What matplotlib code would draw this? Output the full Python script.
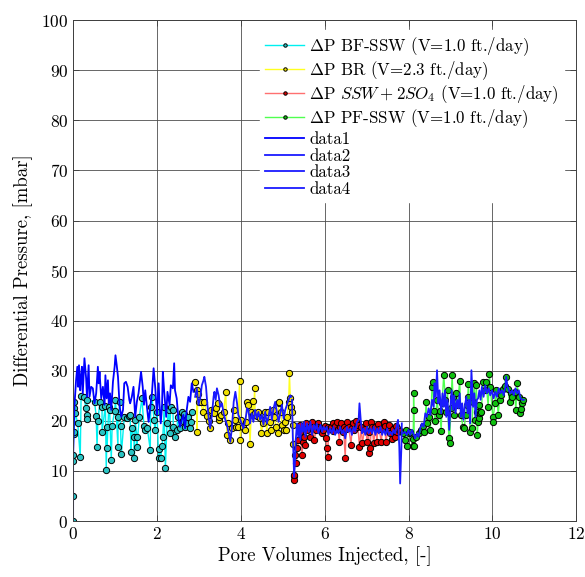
import matplotlib
matplotlib.use("Agg")
import matplotlib.pyplot as plt

plt.rcParams["font.family"] = "serif"
plt.rcParams["font.serif"] = ["cmr10", "DejaVu Serif"]
plt.rcParams["mathtext.fontset"] = "cm"
plt.rcParams["axes.formatter.use_mathtext"] = True
plt.rcParams["axes.unicode_minus"] = False

# ---- Marker series: differential pressure vs. pore volumes injected ----
bf_x = [0.00, 0.00, 0.00, 0.00, 0.01, 0.01, 0.02, 0.02, 0.05, 0.11, 0.17, 0.19, 0.25, 0.31, 0.32,
        0.33, 0.33, 0.51, 0.55, 0.57, 0.59, 0.64, 0.69, 0.69, 0.77, 0.79, 0.81, 0.81, 0.85, 0.87,
        0.91, 0.93, 0.99, 1.01, 1.07, 1.07, 1.12, 1.13, 1.15, 1.22, 1.28, 1.34, 1.36, 1.38, 1.40,
        1.45, 1.46, 1.48, 1.52, 1.52, 1.58, 1.64, 1.69, 1.72, 1.77, 1.84, 1.85, 1.88, 1.93, 1.95,
        2.00, 2.04, 2.06, 2.09, 2.12, 2.14, 2.17, 2.20, 2.24, 2.28, 2.30, 2.33, 2.38, 2.39, 2.43,
        2.47, 2.50, 2.54, 2.59, 2.62, 2.65, 2.67, 2.70, 2.73, 2.78, 2.81, 2.83]
bf_y = [0.0, 5.0, 12.0, 13.2, 17.4, 22.5, 23.8, 17.8, 21.6, 19.5, 12.8, 25.0, 24.8, 22.5, 21.1,
        20.4, 24.2, 23.8, 21.0, 14.8, 20.0, 23.8, 22.8, 17.8, 23.0, 10.2, 18.8, 14.6, 22.8, 22.2,
        12.2, 19.0, 22.0, 24.2, 14.8, 20.8, 23.7, 19.0, 13.3, 20.8, 20.5, 21.0, 21.2, 13.8, 18.6,
        16.8, 12.5, 20.2, 16.8, 14.8, 20.8, 24.5, 19.0, 18.2, 18.5, 14.2, 22.8, 24.8, 20.2, 18.2,
        21.8, 12.5, 14.3, 12.5, 15.0, 16.8, 22.8, 10.5, 19.5, 22.2, 17.5, 22.8, 22.2, 18.8, 16.7,
        18.2, 20.8, 18.5, 21.8, 20.0, 21.4, 18.8, 19.5, 20.8, 18.5, 19.8, 21.8]

br_x = [2.91, 2.95, 2.95, 2.98, 3.01, 3.05, 3.09, 3.13, 3.19, 3.23, 3.27, 3.29, 3.35, 3.37, 3.40,
        3.45, 3.47, 3.48, 3.53, 3.59, 3.64, 3.67, 3.69, 3.75, 3.79, 3.83, 3.85, 3.88, 3.93, 3.97,
        3.99, 4.01, 4.04, 4.09, 4.12, 4.14, 4.18, 4.22, 4.25, 4.28, 4.30, 4.33, 4.34, 4.38, 4.42,
        4.46, 4.49, 4.53, 4.58, 4.62, 4.66, 4.69, 4.72, 4.77, 4.80, 4.84, 4.88, 4.90, 4.92, 4.96,
        4.98, 5.02, 5.06, 5.08, 5.10, 5.14, 5.16, 5.18, 5.20, 5.22, 5.24, 5.24]
br_y = [27.8, 26.2, 17.8, 25.4, 23.8, 23.8, 21.8, 23.8, 21.0, 20.0, 18.5, 22.2, 22.2, 21.6, 22.5,
        23.5, 20.2, 20.8, 21.2, 21.8, 25.8, 17.2, 19.5, 16.2, 18.5, 22.2, 20.2, 18.7, 18.7, 28.0,
        16.2, 20.2, 18.7, 18.2, 19.8, 23.8, 23.2, 15.4, 21.8, 24.0, 21.2, 26.5, 21.5, 21.0, 21.8,
        20.5, 17.6, 19.5, 21.8, 17.6, 21.8, 19.8, 18.2, 22.2, 20.8, 18.8, 17.5, 23.5, 23.8, 21.8,
        19.2, 18.2, 19.8, 18.2, 20.8, 23.8, 29.5, 24.5, 22.8, 21.8, 19.2, 15.4]

ssw_x = [5.26, 5.27, 5.27, 5.30, 5.32, 5.35, 5.37, 5.40, 5.42, 5.46, 5.48, 5.51, 5.54, 5.56, 5.58,
         5.62, 5.66, 5.69, 5.72, 5.75, 5.80, 5.83, 5.85, 5.90, 5.94, 5.97, 6.00, 6.04, 6.05, 6.08,
         6.09, 6.11, 6.16, 6.19, 6.21, 6.25, 6.29, 6.32, 6.35, 6.37, 6.40, 6.43, 6.45, 6.49, 6.51,
         6.54, 6.57, 6.63, 6.65, 6.68, 6.71, 6.74, 6.77, 6.79, 6.83, 6.87, 6.90, 6.95, 6.98, 7.01,
         7.05, 7.06, 7.09, 7.11, 7.13, 7.17, 7.21, 7.25, 7.27, 7.30, 7.35, 7.38, 7.41, 7.43, 7.46,
         7.51, 7.54, 7.57, 7.61, 7.64, 7.68, 7.70, 7.72, 7.76, 7.79]
ssw_y = [9.0, 8.2, 9.2, 13.2, 11.5, 14.5, 16.2, 19.2, 17.8, 13.2, 15.8, 16.8, 15.2, 19.5, 18.2,
         18.7, 16.8, 19.8, 18.7, 16.2, 18.2, 19.6, 18.7, 18.5, 17.5, 18.2, 19.0, 16.5, 14.5, 12.8,
         18.7, 18.3, 18.8, 19.6, 18.0, 19.0, 19.8, 18.3, 15.8, 18.8, 19.5, 17.8, 18.7, 12.5, 18.3,
         19.7, 18.8, 15.2, 18.5, 19.6, 18.2, 19.9, 18.8, 19.2, 14.8, 18.7, 15.5, 18.3, 19.5, 15.8,
         17.8, 13.5, 14.5, 19.7, 18.7, 15.6, 18.8, 15.8, 19.4, 18.3, 15.8, 18.5, 19.8, 19.0, 15.8,
         18.2, 19.2, 17.6, 16.3, 18.3, 16.8, 19.0, 17.8, 18.3, 18.0]

pf_x = [7.86, 7.91, 7.95, 7.96, 8.00, 8.04, 8.10, 8.11, 8.12, 8.12, 8.14, 8.19, 8.24, 8.30, 8.35,
        8.38, 8.42, 8.44, 8.48, 8.52, 8.56, 8.58, 8.60, 8.64, 8.68, 8.72, 8.74, 8.78, 8.80, 8.84,
        8.88, 8.90, 8.93, 8.96, 8.98, 9.01, 9.04, 9.06, 9.09, 9.14, 9.17, 9.22, 9.25, 9.30, 9.33,
        9.36, 9.40, 9.41, 9.43, 9.47, 9.51, 9.54, 9.57, 9.59, 9.62, 9.63, 9.64, 9.66, 9.67, 9.68,
        9.70, 9.74, 9.77, 9.82, 9.85, 9.90, 9.93, 9.95, 10.01, 10.01, 10.06, 10.09, 10.14, 10.17,
        10.21, 10.25, 10.29, 10.32, 10.37, 10.41, 10.45, 10.48, 10.53, 10.56, 10.59, 10.63, 10.67,
        10.69, 10.71, 10.72]
pf_y = [17.5, 16.2, 18.2, 15.0, 17.5, 17.8, 15.0, 16.3, 22.2, 25.5, 15.0, 16.8, 17.6, 18.2, 19.0,
        17.8, 23.8, 19.5, 20.7, 18.2, 26.8, 27.8, 22.0, 20.0, 24.2, 21.2, 22.0, 18.0, 23.5, 29.2,
        24.2, 21.8, 26.2, 16.5, 15.6, 22.5, 29.2, 24.8, 21.2, 25.5, 23.2, 28.0, 21.2, 18.8, 18.5,
        21.2, 23.2, 24.8, 27.3, 17.8, 18.5, 23.8, 27.5, 20.2, 27.2, 21.8, 17.2, 19.8, 23.2, 20.5,
        21.5, 21.8, 27.8, 26.2, 27.8, 22.8, 29.3, 26.7, 20.8, 19.8, 23.6, 26.2, 21.2, 24.2,
        25.1, 26.3, 27.0, 28.7, 26.3, 23.8, 25.5, 24.8, 25.8, 22.2, 27.5, 24.8, 21.5,
        22.3, 23.5, 24.2]

# ---- Line series (data1..data4) ----
d1_x = [0.00, 0.00, 0.03, 0.07, 0.10, 0.12, 0.14, 0.17, 0.19, 0.21, 0.23, 0.27, 0.31, 0.33, 0.37,
        0.39, 0.43, 0.47, 0.51, 0.55, 0.59, 0.61, 0.63, 0.67, 0.71, 0.75, 0.77, 0.80, 0.83, 0.85,
        0.88, 0.91, 0.95, 0.99, 1.01, 1.04, 1.07, 1.11, 1.15, 1.19, 1.22, 1.26, 1.30, 1.34, 1.36,
        1.40, 1.44, 1.48, 1.52, 1.56, 1.62, 1.66, 1.69, 1.72, 1.76, 1.80, 1.84, 1.88, 1.92, 1.96,
        2.00, 2.04, 2.06, 2.09, 2.12, 2.14, 2.17, 2.22, 2.25, 2.30, 2.33, 2.38, 2.41, 2.43, 2.47,
        2.51, 2.55, 2.59, 2.63, 2.67, 2.71, 2.75, 2.79, 2.83, 2.87]
d1_y = [0.0, 13.0, 22.8, 28.1, 30.8, 26.8, 31.1, 26.1, 28.8, 30.8, 25.5, 32.5, 28.5, 24.8, 31.1,
        24.8, 26.8, 26.5, 23.5, 25.5, 30.8, 27.5, 29.8, 24.5, 26.8, 23.2, 29.1, 24.5, 28.1, 23.5,
        25.5, 22.2, 27.8, 30.8, 33.1, 31.1, 28.8, 22.8, 20.8, 22.2, 27.5, 27.8, 26.8, 24.2, 23.5,
        24.8, 26.8, 20.8, 23.8, 25.5, 29.8, 26.8, 23.2, 26.1, 22.8, 19.8, 22.8, 25.5, 30.5, 26.5,
        21.2, 27.5, 23.5, 19.5, 22.8, 29.8, 26.1, 20.8, 25.8, 23.2, 27.1, 26.5, 31.5, 26.1, 24.5,
        20.5, 18.8, 20.2, 21.2, 18.5, 22.2, 24.8, 23.8, 27.5, 25.8]

d2_x = [2.91, 2.95, 2.99, 3.03, 3.07, 3.11, 3.13, 3.17, 3.20, 3.23, 3.27, 3.31, 3.35, 3.37, 3.40,
        3.43, 3.47, 3.51, 3.55, 3.59, 3.63, 3.67, 3.71, 3.75, 3.79, 3.83, 3.87, 3.91, 3.94, 3.99,
        4.03, 4.06, 4.11, 4.15, 4.18, 4.22, 4.26, 4.30, 4.34, 4.38, 4.42, 4.46, 4.50, 4.54, 4.58,
        4.62, 4.66, 4.70, 4.74, 4.78, 4.82, 4.86, 4.90, 4.94, 4.98, 5.02, 5.06, 5.10, 5.14, 5.18,
        5.20]
d2_y = [24.8, 26.5, 23.2, 24.5, 27.1, 28.1, 28.8, 26.8, 23.5, 20.8, 18.5, 21.2, 24.8, 25.8, 24.2,
        26.5, 25.1, 22.8, 23.5, 21.5, 20.2, 19.2, 17.5, 15.8, 18.8, 23.8, 25.8, 23.5, 21.2, 20.2,
        19.2, 18.5, 20.2, 22.5, 22.2, 19.5, 21.5, 19.8, 22.2, 20.5, 21.8, 20.2, 21.2, 19.2, 21.8,
        19.5, 20.8, 22.8, 20.2, 22.5, 23.8, 21.8, 19.8, 21.5, 23.2, 20.5, 22.2, 23.2, 24.2, 25.1,
        24.8]

d3_x = [5.22, 5.24, 5.26, 5.27, 5.29, 5.31, 5.34, 5.37, 5.39, 5.42, 5.45, 5.48, 5.51, 5.54, 5.58,
        5.62, 5.66, 5.70, 5.74, 5.78, 5.81, 5.85, 5.90, 5.94, 5.97, 6.01, 6.05, 6.09, 6.13, 6.17,
        6.21, 6.25, 6.29, 6.33, 6.37, 6.41, 6.45, 6.49, 6.53, 6.57, 6.61, 6.65, 6.69, 6.73, 6.77,
        6.81, 6.83, 6.86, 6.89, 6.93, 6.97, 7.01, 7.05, 7.09, 7.13, 7.17, 7.21, 7.25, 7.29, 7.33,
        7.37, 7.41, 7.45, 7.49, 7.53, 7.57, 7.61, 7.64, 7.68, 7.72, 7.75, 7.78, 7.80, 7.83, 7.84]
d3_y = [24.2, 16.8, 12.2, 8.8, 11.5, 16.2, 19.5, 16.8, 19.2, 16.2, 19.5, 17.8, 19.8, 16.8, 19.5,
        17.8, 19.8, 17.2, 19.2, 18.2, 19.5, 17.5, 19.2, 17.8, 18.8, 18.2, 18.8, 17.2, 18.5, 17.5,
        18.8, 17.2, 18.2, 17.5, 18.8, 17.5, 18.2, 16.5, 18.8, 17.8, 18.5, 17.2, 18.8, 17.8, 19.8,
        20.2, 23.5, 20.2, 17.5, 18.5, 17.2, 18.8, 17.5, 18.5, 17.5, 18.8, 17.2, 18.5, 17.5, 18.8,
        17.2, 18.2, 17.2, 18.5, 17.2, 17.8, 17.2, 18.2, 17.5, 19.2, 20.2, 14.8, 7.5, 14.8, 19.5]

d4_x = [7.86, 7.91, 7.96, 8.00, 8.04, 8.08, 8.16, 8.20, 8.24, 8.28, 8.32, 8.36, 8.40, 8.44, 8.48,
        8.52, 8.56, 8.60, 8.62, 8.65, 8.68, 8.71, 8.74, 8.78, 8.81, 8.84, 8.87, 8.90, 8.93, 8.97,
        9.00, 9.03, 9.06, 9.09, 9.12, 9.16, 9.19, 9.22, 9.25, 9.28, 9.31, 9.34, 9.38, 9.41, 9.44,
        9.47, 9.50, 9.54, 9.57, 9.60, 9.63, 9.66, 9.69, 9.72, 9.75, 9.79, 9.83, 9.87, 9.91, 9.95,
        9.99, 10.03, 10.07, 10.11, 10.15, 10.19, 10.23, 10.27, 10.31, 10.33, 10.36, 10.39, 10.43,
        10.47, 10.51, 10.55, 10.59, 10.63, 10.67, 10.71, 10.75]
d4_y = [17.5, 17.8, 17.2, 18.2, 17.2, 18.2, 16.5, 17.5, 16.8, 18.5, 19.5, 18.8, 21.5, 20.8, 22.5,
        21.2, 24.2, 22.8, 27.5, 24.8, 30.1, 23.5, 26.1, 21.5, 25.5, 22.8, 26.1, 20.8, 24.2, 18.2,
        22.8, 26.1, 22.2, 25.1, 21.5, 24.2, 22.5, 25.5, 20.8, 23.5, 20.2, 22.8, 24.8, 21.5, 24.2,
        19.5, 30.1, 22.8, 25.5, 20.8, 24.2, 24.5, 26.1, 24.2, 26.8, 24.8, 27.1, 25.5, 26.5, 25.1,
        26.1, 24.5, 25.8, 24.8, 26.5, 25.5, 26.1, 25.1, 26.8, 28.8, 26.8, 26.1, 25.5,
        26.1, 25.1, 26.5, 25.5, 26.1, 24.5, 24.2, 24.2]

labels = [r"$\Delta$P BF-SSW (V=1.0 ft./day)",
          r"$\Delta$P BR (V=2.3 ft./day)",
          r"$\Delta$P $SSW+2SO_4$ (V=1.0 ft./day)",
          r"$\Delta$P PF-SSW (V=1.0 ft./day)",
          "data1", "data2", "data3", "data4"]

fig = plt.figure(figsize=(5.85, 5.77), dpi=100)
ax = fig.add_axes([0.125, 0.097, 0.86, 0.868])

mk = dict(marker="o", markersize=4.5, markeredgecolor="black", markeredgewidth=0.7, linewidth=1.0)
ax.plot(bf_x, bf_y, color="#00f0f0", markerfacecolor="#2ac4c4", label=labels[0], **mk)
ax.plot(br_x, br_y, color="#ffff20", markerfacecolor="#f0e000", label=labels[1], **mk)
ax.plot(ssw_x, ssw_y, color="#ff7070", markerfacecolor="#e00000", label=labels[2], **mk)
ax.plot(pf_x, pf_y, color="#50ff50", markerfacecolor="#10c010", label=labels[3], **mk)

ax.plot(d1_x, d1_y, color="#0000ff", linewidth=1.3, label=labels[4])
ax.plot(d2_x, d2_y, color="#1a1aff", linewidth=1.3, label=labels[5])
ax.plot(d3_x, d3_y, color="#1a1aff", linewidth=1.3, label=labels[6])
ax.plot(d4_x, d4_y, color="#1a1aff", linewidth=1.3, label=labels[7])

ax.set_xlim(0, 12)
ax.set_ylim(0, 100)
ax.set_xticks(range(0, 13, 2))
ax.set_yticks(range(0, 101, 10))
ax.grid(True, color="0.3", linewidth=0.6)
ax.set_axisbelow(True)
for s in ax.spines.values():
    s.set_color("0.25")
    s.set_linewidth(0.7)
ax.tick_params(direction="in", length=4, width=0.6, color="0.25", labelsize=12.5,
               top=True, right=True)

ax.set_xlabel("Pore Volumes Injected, [-]", fontsize=13.5, labelpad=3)
ax.set_ylabel("Differential Pressure, [mbar]", fontsize=13.5, labelpad=6)

leg = ax.legend(loc="upper right", bbox_to_anchor=(0.993, 0.997), fontsize=12.2,
                frameon=True, fancybox=False, edgecolor="white", facecolor="white",
                framealpha=1.0, markerscale=0.55, handlelength=2.3, handletextpad=0.3,
                labelspacing=0.08, borderpad=0.3)

fig.savefig("out.png", dpi=100)
